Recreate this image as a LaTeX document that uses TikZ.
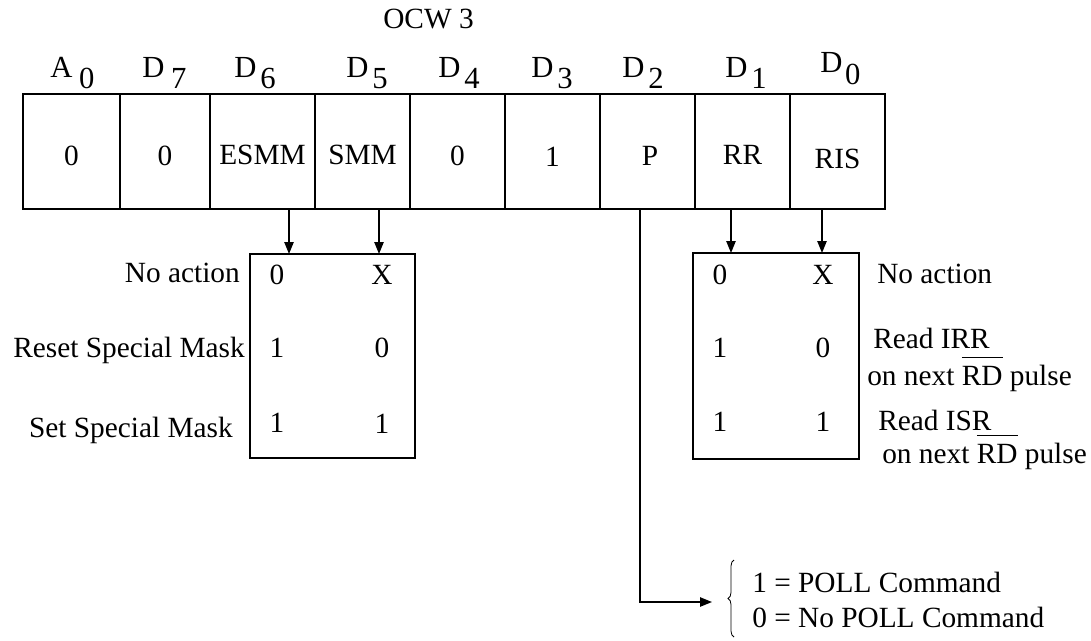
\documentclass[tikz,border=0pt]{standalone}
\usepackage{fontspec}
\setmainfont{Liberation Serif}
\usetikzlibrary{arrows.meta,decorations.pathreplacing}
\newcommand\ovrd[1]{\setbox0\hbox{#1}\rlap{\raisebox{20pt}{\rule{\wd0}{0.9pt}}}\box0\relax}
\begin{document}
\begin{tikzpicture}[x=0.75pt,y=-0.75pt,
  font=\fontsize{22}{26}\selectfont,
  cell/.style={draw, line width=1.2pt, inner sep=0, minimum height=86.25pt},
  txt/.style={inner sep=0},
  lab/.style={inner sep=0, font=\fontsize{23}{26}\selectfont, anchor=base west},
  lbl/.style={inner sep=0, anchor=base east},
  rbl/.style={inner sep=0, anchor=base west},
  arr/.style={line width=1.1pt, -{Triangle[length=9pt,width=7pt]}},
  tbox/.style={draw, line width=1.2pt, inner sep=0}]
\useasboundingbox (0,0) rectangle (1091,640);

% title
\node[txt, anchor=base west] (ocw) at (383,28) {OCW 3};

% bit labels
\node[lab] (lA)  at (50,77)  {A\kern5pt\raisebox{-8.25pt}{0}};
\node[lab] (lD7) at (142,77) {D\kern5pt\raisebox{-8.25pt}{7}};
\node[lab] (lD6) at (234,77) {D\kern3pt\raisebox{-8.25pt}{6}};
\node[lab] (lD5) at (346,77) {D\kern3pt\raisebox{-8.25pt}{5}};
\node[lab] (lD4) at (438,77) {D\kern3pt\raisebox{-8.25pt}{4}};
\node[lab] (lD3) at (531,77) {D\kern3pt\raisebox{-8.25pt}{3}};
\node[lab] (lD2) at (622,77) {D\kern3pt\raisebox{-8.25pt}{2}};
\node[lab] (lD1) at (725,77) {D\kern3pt\raisebox{-8.25pt}{1}};
\node[lab] (lD0) at (820,72) {D\kern2pt\raisebox{-9.5pt}{0}};

% register cells
\node[cell, minimum width=72.75pt] (c0) at (71.5,151.5) {};
\node[cell, minimum width=67.5pt]  (c1) at (165,151.5) {};
\node[cell, minimum width=78.75pt] (c2) at (262.5,151.5) {};
\node[cell, minimum width=71.25pt] (c3) at (362.5,151.5) {};
\node[cell, minimum width=71.25pt] (c4) at (457.5,151.5) {};
\node[cell, minimum width=71.25pt] (c5) at (552.5,151.5) {};
\node[cell, minimum width=71.25pt] (c6) at (647.5,151.5) {};
\node[cell, minimum width=71.25pt] (c7) at (742.5,151.5) {};
\node[cell, minimum width=71.25pt] (c8) at (837.5,151.5) {};

\node[txt] (t0) at (71.5,156) {0};
\node[txt] (t1) at (165,156) {0};
\node[txt] (t2) at (262.5,155) {ESMM};
\node[txt] (t3) at (362.5,155) {SMM};
\node[txt] (t4) at (457.5,156) {0};
\node[txt] (t5) at (552.5,157) {1};
\node[txt] (t6) at (650,156) {P};
\node[txt] (t7) at (742.5,155) {RR};
\node[txt] (t8) at (837.5,159) {RIS};

% result boxes
\node[tbox, minimum width=123.75pt, minimum height=153pt] (lbox) at (332.5,356) {};
\node[tbox, minimum width=124.5pt, minimum height=154.5pt] (rbox) at (776,356) {};

\coordinate (a1) at (289,254);
\coordinate (a2) at (379,254);
\coordinate (a3) at (731,253);
\coordinate (a4) at (822,253);
\draw[arr] (c2.south -| a1) -- (a1);
\draw[arr] (c3.south -| a2) -- (a2);
\draw[arr] (c7.south -| a3) -- (a3);
\draw[arr] (c8.south -| a4) -- (a4);

% left box contents
\node[txt] (l00) at (277,275) {0};
\node[txt] (l01) at (382,275) {X};
\node[txt] (l10) at (277,348) {1};
\node[txt] (l11) at (382,348) {0};
\node[txt] (l20) at (277,423) {1};
\node[txt] (l21) at (382,424) {1};

\node[lbl] (ln1) at (240,282) {No action};
\node[lbl] (ln2) at (245,357) {Reset Special Mask};
\node[lbl] (ln3) at (233,437) {Set Special Mask};

% right box contents
\node[txt] (r00) at (720,275) {0};
\node[txt] (r01) at (823,275) {X};
\node[txt] (r10) at (720,348) {1};
\node[txt] (r11) at (823,348) {0};
\node[txt] (r20) at (720,422) {1};
\node[txt] (r21) at (823,422) {1};

\node[rbl] (rn1)  at (877,283) {No action};
\node[rbl] (rn2)  at (873,348) {Read IRR};
\node[rbl] (rn2b) at (867,385) {on next \ovrd{RD} pulse};
\node[rbl] (rn3)  at (878,430) {Read ISR};
\node[rbl] (rn3b) at (882,463) {on next \ovrd{RD} pulse};

% poll branch
\coordinate (pturn) at (640,602);
\coordinate (ptip) at (712,602);
\draw[arr] (c6.south -| pturn) -- (pturn) -- (ptip);
\draw[line width=0.6pt, decorate, decoration={brace, amplitude=4.5pt}] (734,637) -- (734,560);
\node[rbl] (poll1) at (752,592) {1 = POLL Command};
\node[rbl] (poll0) at (752,627) {0 = No POLL Command};
\end{tikzpicture}
\end{document}
